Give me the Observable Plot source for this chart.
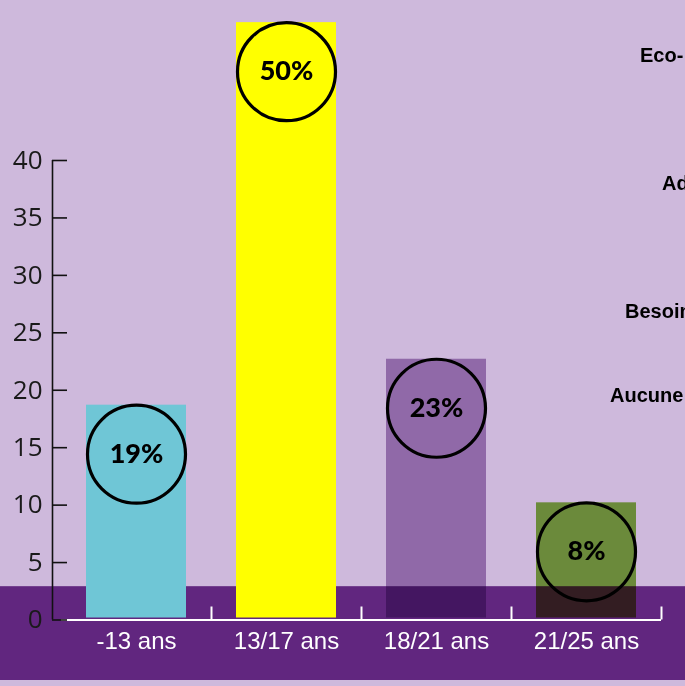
<!DOCTYPE html>
<html>
<head>
<meta charset="utf-8">
<script src="https://cdn.jsdelivr.net/npm/d3@7"></script>
<script src="https://cdn.jsdelivr.net/npm/@observablehq/plot@0.6"></script>
<style>
  html, body { margin: 0; padding: 0; background: #ceb9dc; overflow: hidden; }
  #wrap { position: relative; width: 685px; height: 686px; overflow: hidden; }
  .lg { position: absolute; white-space: nowrap; font-family: "Liberation Sans", Arial, sans-serif;
        font-weight: bold; font-size: 20px; color: #000; line-height: 1; }
</style>
</head>
<body>
<div id="wrap"></div>
<script>
// ---- data ----
const categories = ["-13 ans", "13/17 ans", "18/21 ans", "21/25 ans"];
const barValues = [18.7, 52, 22.7, 10.2];
const shareLabels = ["19%", "50%", "23%", "8%"];
const barColors = ["#6fc6d6", "#ffff00", "#b291c3", "#84be44"];
const yTicks = [0, 5, 10, 15, 20, 25, 30, 35, 40];
const boundaryTicks = [1, 2, 3, 4];
const legendLabels = ["Eco-", "Ad", "Besoin", "Aucune"];

const rows = categories.map((c, i) => ({category: c, i, value: barValues[i], label: shareLabels[i]}));

// decorative dark band behind the axis
const bandTopValue = 2.9;
function band(index, scales, values, dims) {
  const r = document.createElementNS("http://www.w3.org/2000/svg", "rect");
  const top = scales.y(bandTopValue);
  r.setAttribute("x", 0);
  r.setAttribute("width", dims.width);
  r.setAttribute("y", top);
  r.setAttribute("height", dims.height - 6 - top);
  r.setAttribute("fill", "#61267f");
  return r;
}

const font = "'Open Sans', sans-serif";
const chart = Plot.plot({
  width: 685,
  height: 686,
  marginLeft: 61,
  marginRight: 24,
  marginTop: 160,
  marginBottom: 66.5,
  style: {background: "#ceb9dc", fontFamily: font, overflow: "visible"},
  x: {type: "linear", domain: [0, 4]},
  y: {domain: [0, 40]},
  color: {domain: categories, range: barColors},
  marks: [
    band,
    Plot.rectY(rows.filter(d => d.i < 2), {
      x1: d => d.i + 1/6, x2: d => d.i + 5/6, y: "value", fill: "category", insetBottom: 2
    }),
    Plot.rectY(rows.filter(d => d.i >= 2), {
      x1: d => d.i + 1/6, x2: d => d.i + 5/6, y: "value", fill: "category", insetBottom: 2,
      mixBlendMode: "multiply"
    }),
    Plot.ruleY([0], {stroke: "white", strokeWidth: 2}),
    Plot.ruleX(boundaryTicks, {y1: 0, y2: 0, insetTop: -13, stroke: "white", strokeWidth: 2}),
    Plot.axisX({
      ticks: categories.map((c, i) => i + 0.5),
      tickFormat: d => categories[Math.floor(d)],
      tickSize: 0, tickPadding: 12, fontSize: 24, fill: "white",
      fontFamily: "'Liberation Sans', Arial, sans-serif", label: null
    }),
    Plot.ruleX([0], {y1: 0, y2: 40, dx: -9, stroke: "#111", strokeWidth: 1.6}),
    Plot.axisY({
      ticks: yTicks, tickSize: 15, tickPadding: 10, dx: 6, fontSize: 26,
      fill: "#1a1a1a", stroke: "#111", strokeWidth: 1.6, label: null
    }),
    Plot.dot(rows, {
      x: d => d.i + 0.5, y: "value", dy: 49, r: 49, stroke: "#000", strokeWidth: 3.2, fill: "none"
    }),
    Plot.text(rows, {
      x: d => d.i + 0.5, y: "value", dy: 49, text: "label", fontSize: 27, fontWeight: 900,
      fontFamily: "Lato, sans-serif", fill: "#000"
    })
  ]
});
const wrap = document.getElementById("wrap");
wrap.appendChild(chart);

// clipped legend labels at the right edge
const legendPos = [[640, 45], [662, 173], [625, 301], [610, 385]];
legendLabels.forEach((t, k) => {
  const s = document.createElement("div");
  s.className = "lg";
  s.textContent = t;
  s.style.left = legendPos[k][0] + "px";
  s.style.top = legendPos[k][1] + "px";
  wrap.appendChild(s);
});
</script>
</body>
</html>
